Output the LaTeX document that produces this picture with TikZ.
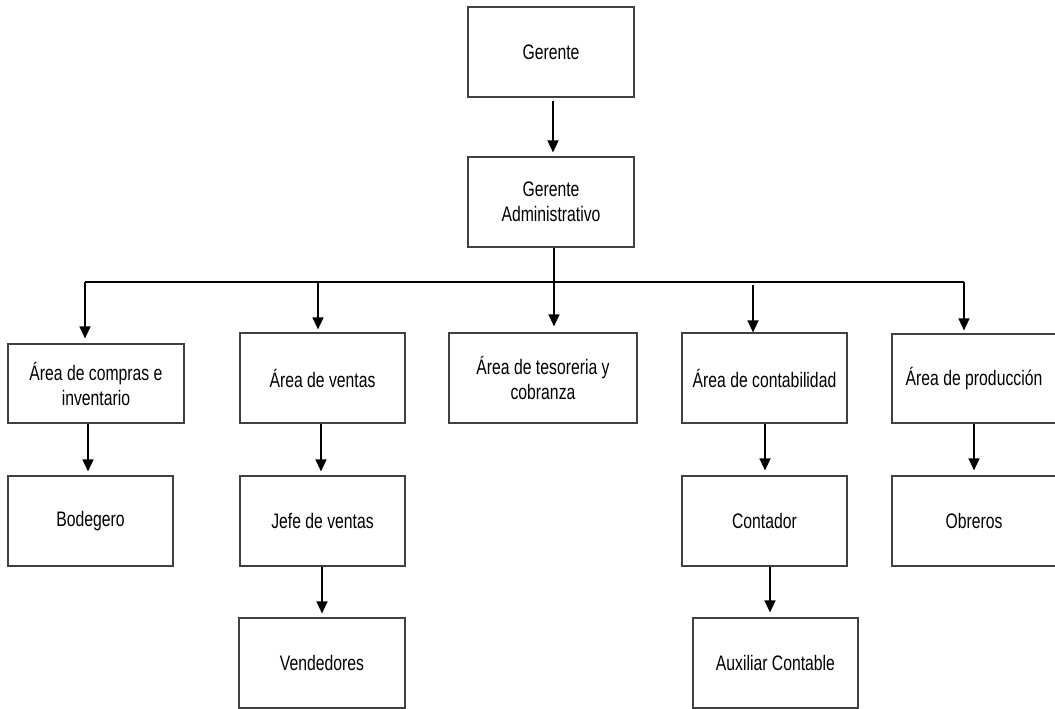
\documentclass[tikz,border=0pt]{standalone}
\usepackage{fontspec}
\setmainfont{Liberation Sans}[FakeStretch=0.75]
\usetikzlibrary{arrows.meta}
\definecolor{boxgray}{HTML}{404040}
\begin{document}
\begin{tikzpicture}[x=1pt,y=-1pt,
  box/.style={draw=boxgray, line width=1.2pt, fill=white, inner sep=0pt,
    align=center, text=black, minimum width=165pt, minimum height=90pt,
    font=\fontsize{21}{25}\selectfont},
  link/.style={line width=1.4pt, draw=black},
  arr/.style={link, -{Triangle[length=12pt,width=11pt]}},
]
\useasboundingbox (0,0) rectangle (1055,709);

% Top management
\node[box, minimum width=166pt] (ger) at (551,52) {Gerente};
\node[box, minimum width=166pt] (adm) at (551,202) {Gerente\\Administrativo};

% Areas
\node[box, minimum width=176pt, minimum height=79pt] (comp) at (96,383.5) {Área de compras e\\inventario};
\node[box] (vent) at (322.5,378) {Área de ventas};
\node[box, minimum width=188pt] (teso) at (543,378) {Área de tesoreria y\\cobranza};
\node[box] (cont) at (764.5,378) {Área de contabilidad};
\node[box, minimum width=164pt, minimum height=89pt] (prod) at (974,378.5) {Área de producción};

% Staff
\node[box] (bode) at (90.5,521) {Bodegero};
\node[box] (jefe) at (322.5,521) {Jefe de ventas};
\node[box] (ctdr) at (764.5,521) {Contador};
\node[box, minimum width=164pt] (obre) at (974,521) {Obreros};
\node[box, minimum width=166pt] (vend) at (322,663) {Vendedores};
\node[box] (auxc) at (775.5,663) {Auxiliar Contable};

% Connector positions
\coordinate (xg) at (553,0);
\coordinate (xt) at (554,0);
\coordinate (busL) at (85,282);
\coordinate (busR) at (964,282);
\coordinate (bV) at (318,282);
\coordinate (bC) at (753,285);
\coordinate (x1) at (88,0);
\coordinate (x2) at (321,0);
\coordinate (x3) at (765,0);
\coordinate (x4) at (974,0);
\coordinate (x5) at (322,0);
\coordinate (x6) at (770,0);

% Management chain and bus
\draw[arr, shorten <=3pt, shorten >=4pt] (ger.south -| xg) -- (adm.north -| xg);
\draw[arr, shorten >=6pt] (adm.south -| xt) -- (teso.north -| xt);
\draw[link] (busL) -- (busR);
\draw[arr, shorten >=5pt] (busL) -- (comp.north -| busL);
\draw[arr, shorten >=3pt] (bV) -- (vent.north -| bV);
\draw[arr] (bC) -- (cont.north -| bC);
\draw[arr, shorten >=3pt] (busR) -- (prod.north -| busR);

% Area to staff
\draw[arr, shorten >=4pt] (comp.south -| x1) -- (bode.north -| x1);
\draw[arr, shorten >=4pt] (vent.south -| x2) -- (jefe.north -| x2);
\draw[arr, shorten >=5pt] (cont.south -| x3) -- (ctdr.north -| x3);
\draw[arr, shorten >=5pt] (prod.south -| x4) -- (obre.north -| x4);
\draw[arr, shorten >=4pt] (jefe.south -| x5) -- (vend.north -| x5);
\draw[arr, shorten >=5pt] (ctdr.south -| x6) -- (auxc.north -| x6);
\end{tikzpicture}
\end{document}
